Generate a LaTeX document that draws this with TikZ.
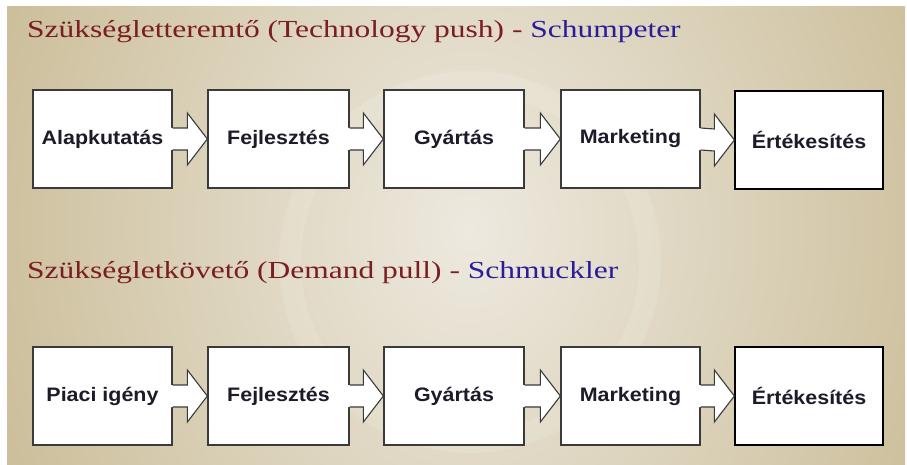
\documentclass[tikz,border=0pt]{standalone}
\usepackage{fontspec}
\setmainfont{Liberation Serif}
\setsansfont{Liberation Sans}
\usetikzlibrary{calc}
\definecolor{bgtan}{HTML}{C4B48A}
\definecolor{bglight}{HTML}{EDE9DF}
\definecolor{titlered}{HTML}{7A1E22}
\definecolor{titleblue}{HTML}{2B1C9C}
\definecolor{boxtext}{HTML}{1B1B2A}
\definecolor{boxedge}{HTML}{3A3A3A}
\tikzset{
  stepbox/.style={draw=boxedge, line width=1.3pt, fill=white, inner sep=0pt,
    minimum height=98pt, font=\sffamily\bfseries\fontsize{19.5}{22}\selectfont, text=boxtext},
  lastbox/.style={stepbox, draw=black},
  arrowline/.style={draw=boxedge, line width=1.1pt, line join=miter},
  titletext/.style={anchor=base west, inner sep=0pt, font=\fontsize{24.5}{28}\selectfont}
}
\newcommand\wide[1]{\scalebox{1.1}[1]{#1}}
\newcommand\flowarrow[2]{%
  \fill[white] ($(#1.east)+(-1.5,-11)$) -- ($(#2.west)+(-20,-11)$) -- ($(#2.west)+(-20,-26)$) -- (#2.west)
     -- ($(#2.west)+(-20,26)$) -- ($(#2.west)+(-20,11)$) -- ($(#1.east)+(-1.5,11)$) -- cycle;
  \draw[arrowline] ($(#1.east)+(0,-11)$) -- ($(#2.west)+(-20,-11)$) -- ($(#2.west)+(-20,-26)$) -- (#2.west)
     -- ($(#2.west)+(-20,26)$) -- ($(#2.west)+(-20,11)$) -- ($(#1.east)+(0,11)$);
}
\begin{document}
\begin{tikzpicture}[x=1pt,y=-1pt]
\useasboundingbox (0,0) rectangle (907,465);
\fill[white] (0,0) rectangle (907,465);
\fill[bgtan] (7,7) rectangle (905,465);
\begin{scope}
  \clip (7,7) rectangle (905,465);
  \shade[inner color=bglight, outer color=bgtan] (470,230) ellipse [x radius=620, y radius=760];
  \draw[white, opacity=0.12, line width=22pt] (470,262) circle (180);
\end{scope}

% titles
\node[titletext] (t1) at (27,38) {\scalebox{1.285}[1]{\textcolor{titlered}{Szükségletteremtő (Technology push) -} \textcolor{titleblue}{Schumpeter}}};
\node[titletext] (t2) at (27,278) {\scalebox{1.285}[1]{\textcolor{titlered}{Szükségletkövető (Demand pull) -} \textcolor{titleblue}{Schmuckler}}};

% row 1
\node[stepbox, minimum width=139pt] (a1) at (102.5,139) {\wide{Alapkutatás}};
\node[stepbox, minimum width=141pt] (a2) at (278.5,139) {\wide{Fejlesztés}};
\node[stepbox, minimum width=140pt] (a3) at (454,139) {\wide{Gyártás}};
\node[stepbox, minimum width=139pt] (a4) at (630.5,139) {\wide{Marketing}};
\node[lastbox, minimum width=148pt] (a5) at (809,140) {\raisebox{-4pt}{\wide{Értékesítés}}};
\flowarrow{a1}{a2}
\flowarrow{a2}{a3}
\flowarrow{a3}{a4}
\flowarrow{a4}{a5}

% row 2
\node[stepbox, minimum width=139pt] (b1) at (102.5,396) {\wide{Piaci igény}};
\node[stepbox, minimum width=141pt] (b2) at (278.5,396) {\wide{Fejlesztés}};
\node[stepbox, minimum width=140pt] (b3) at (454,396) {\wide{Gyártás}};
\node[stepbox, minimum width=139pt] (b4) at (630.5,396) {\wide{Marketing}};
\node[lastbox, minimum width=148pt] (b5) at (809,396) {\raisebox{-4pt}{\wide{Értékesítés}}};
\flowarrow{b1}{b2}
\flowarrow{b2}{b3}
\flowarrow{b3}{b4}
\flowarrow{b4}{b5}
\end{tikzpicture}
\end{document}
